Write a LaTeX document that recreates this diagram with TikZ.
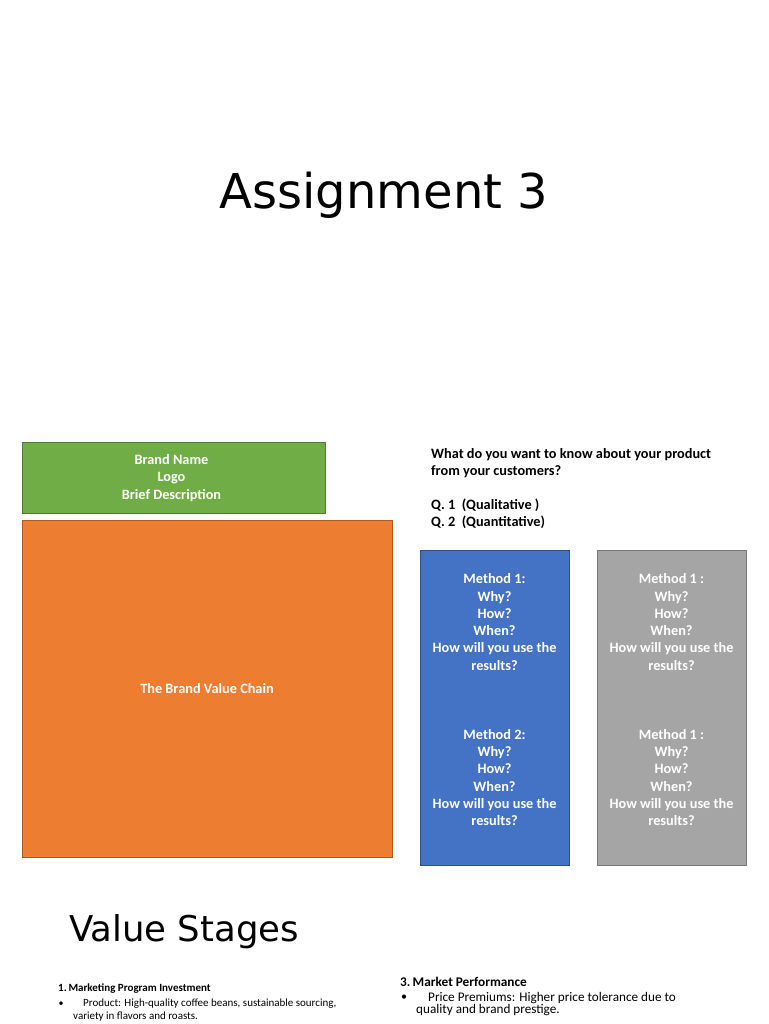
\documentclass[tikz,border=0pt]{standalone}
\usepackage{fontspec}
\setmainfont{Carlito}
\newfontfamily\titlefont{DejaVu Sans}
\definecolor{cgreen}{HTML}{70AD47}
\definecolor{cgreenb}{HTML}{507E32}
\definecolor{corange}{HTML}{ED7D31}
\definecolor{corangeb}{HTML}{AE5A21}
\definecolor{cblue}{HTML}{4472C4}
\definecolor{cblueb}{HTML}{2F528F}
\definecolor{cgray}{HTML}{A5A5A5}
\definecolor{cgrayb}{HTML}{787878}
\tikzset{
  box/.style={draw, line width=0.8pt, inner sep=0pt},
  boxtext/.style={text=white, font=\fontsize{14.3}{17.3}\selectfont\bfseries, align=center, inner sep=0pt},
  qtext/.style={text=black, font=\fontsize{14.3}{17}\selectfont\bfseries, align=left, inner sep=0pt, anchor=north west},
  bigtitle/.style={font=\titlefont\fontsize{48}{58}\selectfont, inner sep=0pt},
  midtitle/.style={font=\titlefont\fontsize{35.5}{42}\selectfont, inner sep=0pt, anchor=west},
}
\begin{document}
\begin{tikzpicture}[x=1pt,y=-1pt]
\useasboundingbox (0,0) rectangle (768,1024);
\fill[white] (0,0) rectangle (768,1024);

\node[bigtitle] (title) at (384,195) {Assignment 3};

\draw[box, fill=cgreen, draw=cgreenb] (22,442) rectangle (325,513);
\node[boxtext] (brand) at (171.5,478) {Brand Name\\Logo\\Brief Description};

\draw[box, fill=corange, draw=corangeb] (22,520) rectangle (392,857);
\node[boxtext] (chain) at (207,688.5) {The Brand Value Chain};

\node[qtext] (question) at (431,448) {What do you want to know about your product\\from your customers?\\[17.5pt]Q. 1\ \ (Qualitative )\\Q. 2\ \ (Quantitative)};

\draw[box, fill=cblue, draw=cblueb] (420,550) rectangle (569,865);
\node[boxtext] (b1) at (494.5,622) {Method 1:\\Why?\\How?\\When?\\How will you use the\\results?};
\node[boxtext] (b2) at (494.5,777.5) {Method 2:\\Why?\\How?\\When?\\How will you use the\\results?};

\draw[box, fill=cgray, draw=cgrayb] (597,550) rectangle (746,865);
\node[boxtext] (g1) at (671.5,622) {Method 1 :\\Why?\\How?\\When?\\How will you use the\\results?};
\node[boxtext] (g2) at (671.5,777.5) {Method 1 :\\Why?\\How?\\When?\\How will you use the\\results?};

\node[midtitle] (stages) at (69,932) {Value Stages};

\node[anchor=west, inner sep=0pt, font=\fontsize{11}{13}\selectfont\bfseries] (s1) at (58,989) {1.\,Marketing Program Investment};
\node[anchor=center, inner sep=0pt, font=\fontsize{10}{12}\selectfont] (s1b) at (61,1004) {\textbullet};
\node[anchor=west, inner sep=0pt, font=\fontsize{11}{12}\selectfont] (s1t) at (83,1004) {Product: High-quality coffee beans, sustainable sourcing,};
\node[anchor=west, inner sep=0pt, font=\fontsize{11}{12}\selectfont] (s1u) at (73,1017) {variety in flavors and roasts.};

\node[anchor=west, inner sep=0pt, font=\fontsize{13.3}{15}\selectfont\bfseries] (s3) at (400,982) {3.\,Market Performance};
\node[anchor=center, inner sep=0pt, font=\fontsize{12}{14}\selectfont] (s3b) at (404,998) {\textbullet};
\node[anchor=west, inner sep=0pt, font=\fontsize{13.2}{14}\selectfont] (s3t) at (428,998) {Price Premiums: Higher price tolerance due to};
\node[anchor=west, inner sep=0pt, font=\fontsize{13.2}{14}\selectfont] (s3u) at (416,1010) {quality and brand prestige.};
\end{tikzpicture}
\end{document}
